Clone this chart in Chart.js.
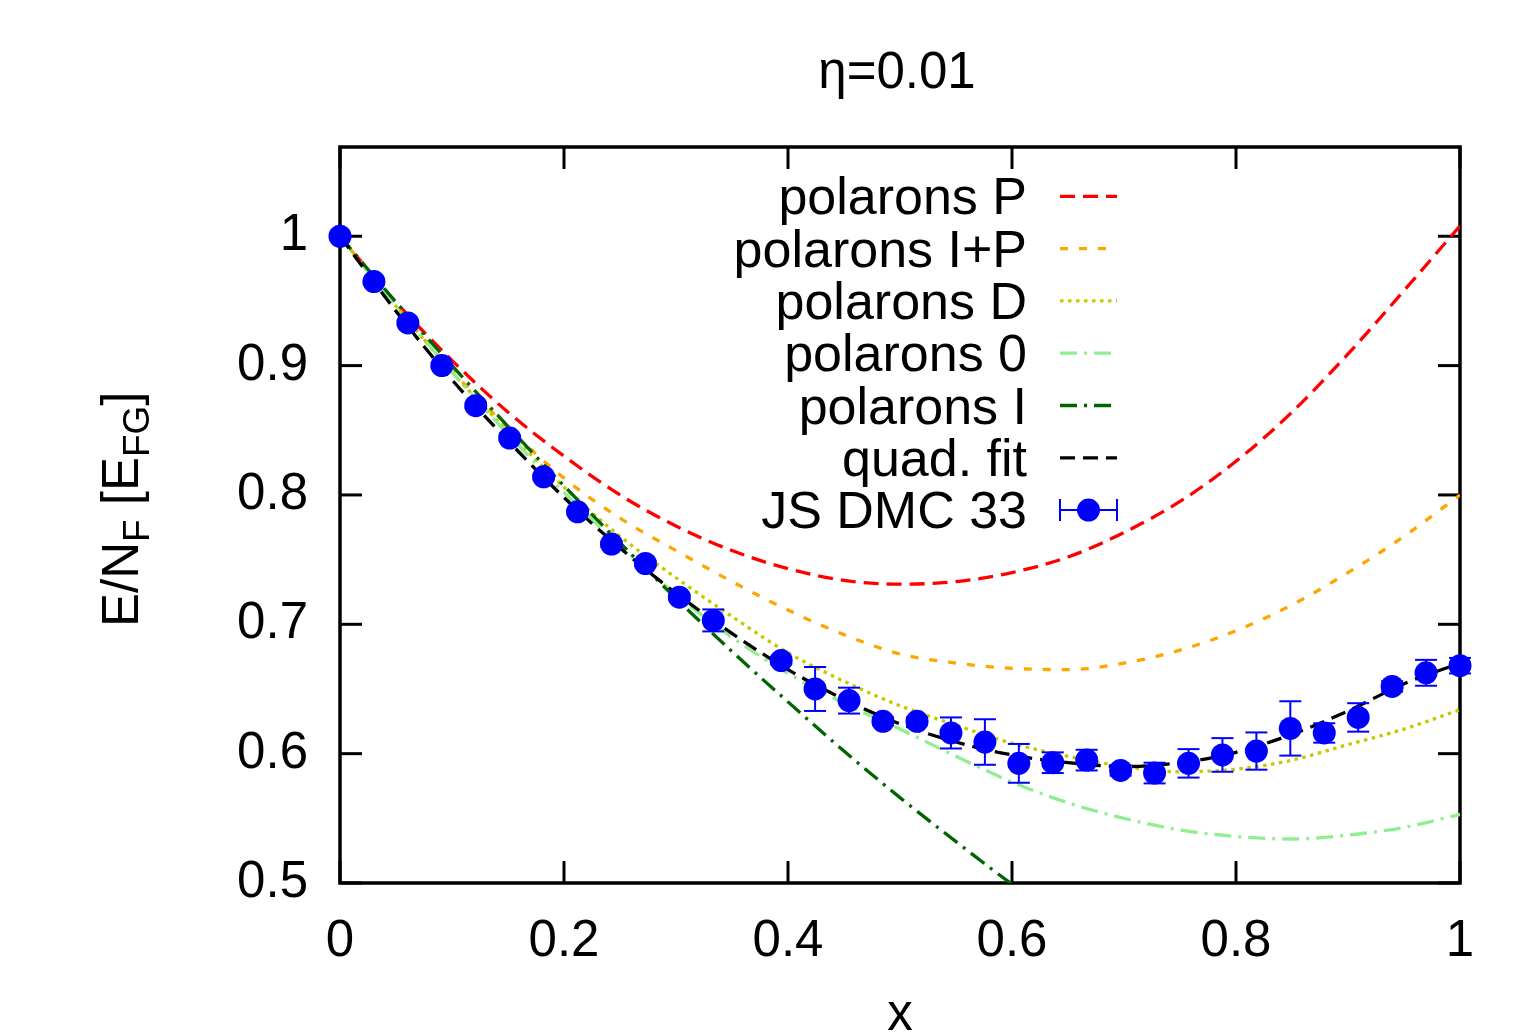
<!DOCTYPE html>
<html>
<head>
<meta charset="utf-8">
<title>eta=0.01</title>
<script src="https://cdn.jsdelivr.net/npm/chart.js@4.4.1/dist/chart.umd.min.js"></script>
<style>
  html, body { margin: 0; padding: 0; background: #fff; }
  #wrap { width: 1531px; height: 1036px; }
</style>
</head>
<body>
<div id="wrap"><canvas id="chart" width="1531" height="1036"></canvas></div>
<script>
// ---- data ----
const xTicks = [0, 0.2, 0.4, 0.6, 0.8, 1];
const yTicks = [0.5, 0.6, 0.7, 0.8, 0.9, 1];

// model curves, sampled every 0.05 in x
const xCurve = [0, 0.05, 0.1, 0.15, 0.2, 0.25, 0.3, 0.35, 0.4, 0.45, 0.5,
                0.55, 0.6, 0.65, 0.7, 0.75, 0.8, 0.85, 0.9, 0.95, 1];
const polaronsP   = [1, 0.949, 0.904, 0.864, 0.830, 0.800, 0.776, 0.757, 0.743, 0.734, 0.731,
                     0.733, 0.740, 0.752, 0.771, 0.795, 0.826, 0.864, 0.909, 0.958, 1.008];
const polaronsIP  = [1, 0.946, 0.896, 0.852, 0.813, 0.782, 0.757, 0.733, 0.711, 0.692, 0.677,
                     0.670, 0.666, 0.665, 0.670, 0.680, 0.695, 0.715, 0.740, 0.768, 0.800];
const polaronsD   = [1, 0.946, 0.895, 0.849, 0.806, 0.768, 0.736, 0.706, 0.678, 0.656, 0.637,
                     0.622, 0.608, 0.598, 0.590, 0.586, 0.588, 0.595, 0.607, 0.619, 0.634];
const polarons0   = [1, 0.946, 0.895, 0.847, 0.802, 0.761, 0.723, 0.690, 0.662, 0.639, 0.619,
                     0.598, 0.578, 0.562, 0.550, 0.541, 0.536, 0.534, 0.537, 0.543, 0.553];
const xCurveI     = [0, 0.05, 0.1, 0.15, 0.2, 0.25, 0.3, 0.35, 0.4, 0.45, 0.5, 0.55, 0.6, 0.65];
const polaronsI   = [1, 0.949, 0.900, 0.853, 0.807, 0.763, 0.720, 0.679, 0.640, 0.602, 0.566,
                     0.532, 0.499, 0.468];
const quadFit     = [1, 0.942, 0.889, 0.842, 0.798, 0.759, 0.724, 0.693, 0.665, 0.642, 0.623,
                     0.609, 0.599, 0.593, 0.590, 0.593, 0.601, 0.615, 0.633, 0.654, 0.670];

// JS DMC 33 points with error bars
const dmcX   = [0, 0.0303, 0.0606, 0.0909, 0.1212, 0.1515, 0.1818, 0.2121, 0.2424, 0.2727,
                0.3030, 0.3333, 0.3939, 0.4242, 0.4545, 0.4848, 0.5152, 0.5455, 0.5758, 0.6061,
                0.6364, 0.6667, 0.6970, 0.7273, 0.7576, 0.7879, 0.8182, 0.8485, 0.8788, 0.9091,
                0.9394, 0.9697, 1.0];
const dmcY   = [1.000, 0.965, 0.933, 0.900, 0.869, 0.844, 0.814, 0.787, 0.762, 0.747,
                0.721, 0.703, 0.672, 0.650, 0.641, 0.625, 0.625, 0.616, 0.609, 0.5925,
                0.593, 0.595, 0.587, 0.585, 0.5925, 0.599, 0.602, 0.6195, 0.616, 0.628,
                0.652, 0.6625, 0.668];
const dmcErr = [0, 0.002, 0.002, 0.002, 0.002, 0.002, 0.002, 0.002, 0.002, 0.002,
                0.002, 0.0085, 0.003, 0.017, 0.010, 0.003, 0.003, 0.012, 0.0176, 0.015,
                0.008, 0.008, 0.004, 0.008, 0.011, 0.013, 0.0144, 0.021, 0.0075, 0.011,
                0.004, 0.010, 0.006];

const FONT = "'Liberation Sans', Arial, Helvetica, sans-serif";
const toXY = (xs, ys) => xs.map((x, i) => ({ x: x, y: ys[i] }));

function curve(label, xs, ys, color, dash, order) {
    return {
        label: label,
        data: toXY(xs, ys),
        showLine: true,
        borderColor: color,
        borderWidth: 3.3,
        borderDash: dash,
        pointRadius: 0,
        cubicInterpolationMode: 'monotone',
        order: order
    };
}

const datasets = [
    curve('polarons P',   xCurve,  polaronsP,  '#ff0000', [15, 8], 6),
    curve('polarons I+P', xCurve,  polaronsIP, '#ffa500', [8, 11], 5),
    curve('polarons D',   xCurve,  polaronsD,  '#c8c800', [3.5, 4.5], 4),
    curve('polarons 0',   xCurve,  polarons0,  '#90ee90', [17, 7, 3, 7], 3),
    curve('polarons I',   xCurveI, polaronsI,  '#006400', [17, 7, 3, 7], 2),
    curve('quad. fit',    xCurve,  quadFit,    '#000000', [15, 8], 1),
    {
        label: 'JS DMC 33',
        data: toXY(dmcX, dmcY),
        showLine: false,
        pointRadius: 11.5,
        pointBackgroundColor: '#0000ff',
        pointBorderWidth: 0,
        clip: false,
        order: 0
    }
];

function seg(ctx, x1, y1, x2, y2) {
    ctx.beginPath();
    ctx.moveTo(x1, y1);
    ctx.lineTo(x2, y2);
    ctx.stroke();
}

// border + inward ticks on all four sides (drawn under the data)
const framePlugin = {
    id: 'frame',
    beforeDatasetsDraw(chart) {
        const { ctx, chartArea: a, scales } = chart;
        ctx.save();
        ctx.strokeStyle = '#000';
        ctx.lineWidth = 3;
        yTicks.forEach(v => {
            const py = scales.y.getPixelForValue(v);
            seg(ctx, a.left, py, a.left + 22, py);
            seg(ctx, a.right, py, a.right - 22, py);
        });
        xTicks.forEach(v => {
            const px = scales.x.getPixelForValue(v);
            seg(ctx, px, a.bottom, px, a.bottom - 22);
            seg(ctx, px, a.top, px, a.top + 22);
        });
        ctx.lineWidth = 3.5;
        ctx.strokeRect(a.left, a.top, a.right - a.left, a.bottom - a.top);
        ctx.restore();
    }
};

// vertical error bars with caps, under the DMC markers
const errorBarPlugin = {
    id: 'errorBars',
    beforeDatasetDraw(chart, args) {
        if (chart.data.datasets[args.index].label !== 'JS DMC 33') return;
        const { ctx, scales } = chart;
        ctx.save();
        ctx.strokeStyle = '#0000ff';
        ctx.lineWidth = 2;
        dmcY.forEach((v, i) => {
            const e = dmcErr[i];
            if (!e) return;
            const px = scales.x.getPixelForValue(dmcX[i]);
            const top = scales.y.getPixelForValue(v + e);
            const bot = scales.y.getPixelForValue(v - e);
            seg(ctx, px, top, px, bot);
            seg(ctx, px - 11, top, px + 11, top);
            seg(ctx, px - 11, bot, px + 11, bot);
        });
        ctx.restore();
    }
};

// title, axis titles and the key
const textPlugin = {
    id: 'texts',
    afterDatasetsDraw(chart) {
        const { ctx } = chart;
        ctx.save();
        ctx.fillStyle = '#000';

        // title
        ctx.font = '51px ' + FONT;
        ctx.textAlign = 'center';
        ctx.textBaseline = 'alphabetic';
        ctx.fillText('\u03b7=0.01', 897, 88);

        // x axis title
        ctx.fillText('x', 900, 1030);

        // y axis title with subscripts
        ctx.save();
        ctx.translate(138, 627);
        ctx.rotate(-Math.PI / 2);
        ctx.textAlign = 'left';
        const parts = [['E/N', false], ['F', true], [' [E', false], ['FG', true], [']', false]];
        let cx = 0;
        parts.forEach(([t, sub]) => {
            ctx.font = (sub ? '37px ' : '51px ') + FONT;
            ctx.fillText(t, cx, sub ? 11 : 0);
            cx += ctx.measureText(t).width;
        });
        ctx.restore();

        // key
        const rowY0 = 196.3, rowStep = 52.3;
        ctx.textAlign = 'right';
        ctx.font = '52px ' + FONT;
        chart.data.datasets.forEach((ds, i) => {
            const ry = rowY0 + i * rowStep;
            ctx.fillStyle = '#000';
            ctx.fillText(ds.label, 1027, ry + 18);
            if (ds.showLine) {
                ctx.save();
                ctx.strokeStyle = ds.borderColor;
                ctx.lineWidth = 3.3;
                ctx.setLineDash(ds.borderDash);
                seg(ctx, 1060, ry, 1117, ry);
                ctx.restore();
            } else {
                ctx.save();
                ctx.strokeStyle = '#0000ff';
                ctx.lineWidth = 2;
                seg(ctx, 1060, ry, 1117, ry);
                seg(ctx, 1060, ry - 11, 1060, ry + 11);
                seg(ctx, 1117, ry - 11, 1117, ry + 11);
                ctx.fillStyle = '#0000ff';
                ctx.beginPath();
                ctx.arc(1088.5, ry, 11.5, 0, Math.PI * 2);
                ctx.fill();
                ctx.restore();
            }
        });
        ctx.restore();
    }
};

new Chart(document.getElementById('chart'), {
    type: 'scatter',
    data: { datasets: datasets },
    options: {
        responsive: false,
        devicePixelRatio: 1,
        animation: false,
        events: [],
        layout: { padding: { top: 147, right: 71, left: 0, bottom: 0 } },
        plugins: {
            legend: { display: false },
            tooltip: { enabled: false },
            title: { display: false }
        },
        scales: {
            x: {
                type: 'linear',
                min: 0,
                max: 1,
                afterFit: s => { s.height = 153; },
                afterBuildTicks: s => { s.ticks = xTicks.map(v => ({ value: v })); },
                grid: { display: false, drawTicks: false },
                border: { display: false },
                ticks: {
                    color: '#000',
                    padding: 28,
                    maxRotation: 0,
                    autoSkip: false,
                    font: { family: FONT, size: 51 },
                    callback: v => String(+v.toFixed(1))
                }
            },
            y: {
                type: 'linear',
                min: 0.5,
                max: 1.069,
                afterFit: s => { s.width = 340; },
                afterBuildTicks: s => { s.ticks = yTicks.map(v => ({ value: v })); },
                grid: { display: false, drawTicks: false },
                border: { display: false },
                ticks: {
                    color: '#000',
                    padding: 32,
                    autoSkip: false,
                    font: { family: FONT, size: 51 },
                    callback: v => String(+v.toFixed(1))
                }
            }
        }
    },
    plugins: [framePlugin, errorBarPlugin, textPlugin]
});
</script>
</body>
</html>
